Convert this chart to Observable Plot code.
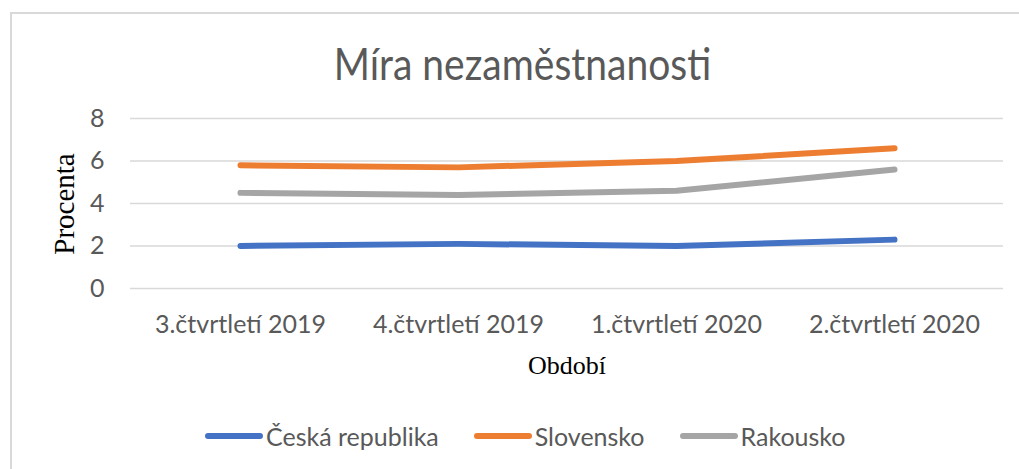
<!DOCTYPE html>
<html>
<head>
<meta charset="utf-8">
<script src="https://cdn.jsdelivr.net/npm/d3@7"></script>
<script src="https://cdn.jsdelivr.net/npm/@observablehq/plot@0.6"></script>
<style>
  html, body { margin: 0; padding: 0; background: #fff; }
  #wrap { position: relative; width: 1019px; height: 469px; overflow: hidden; font-family: Lato, "Open Sans", sans-serif; }
  #border { position: absolute; left: 10px; top: 12px; width: 1040px; height: 500px; border: 2px solid #d9d9d9; box-sizing: border-box; }
  #title { position: absolute; left: 0; width: 1045px; top: 37px; text-align: center; font-size: 39px; color: #595959; line-height: 52px; white-space: nowrap; transform: scaleY(1.15); transform-origin: 50% 50%; }
  #chart { position: absolute; left: 0; top: 0; }
  .axlab { position: absolute; font-family: "Liberation Serif", "Times New Roman", serif; color: #000; white-space: nowrap; }
  #ylab { left: 64px; top: 204px; font-size: 29px; transform: translate(-50%, -50%) rotate(-90deg); }
  #xlab { left: 567px; top: 366px; font-size: 26px; transform: translate(-50%, -50%); }
  #legend { position: absolute; left: 205px; top: 420px; height: 32px; display: flex; align-items: center; font-size: 25px; color: #595959; }
  .item { display: flex; align-items: center; margin-right: 35px; }
  .sw { width: 58px; height: 6px; border-radius: 3px; margin-right: 3px; }
</style>
</head>
<body>
<div id="wrap">
  <div id="border"></div>
  <div id="title">Míra nezaměstnanosti</div>
  <div id="chart"></div>
  <div class="axlab" id="ylab">Procenta</div>
  <div class="axlab" id="xlab">Období</div>
  <div id="legend"></div>
</div>
<script>
const categories = ["3.čtvrtletí 2019", "4.čtvrtletí 2019", "1.čtvrtletí 2020", "2.čtvrtletí 2020"];
const seriesNames = ["Česká republika", "Slovensko", "Rakousko"];
const ceskaRepublika = [2.0, 2.1, 2.0, 2.3];
const slovensko = [5.8, 5.7, 6.0, 6.6];
const rakousko = [4.5, 4.4, 4.6, 5.6];
const yTicks = [0, 2, 4, 6, 8];
const colors = ["#4472C4", "#ED7D31", "#A5A5A5"];

const seriesValues = [ceskaRepublika, slovensko, rakousko];
const data = [];
seriesNames.forEach((s, i) => categories.forEach((c, j) => data.push({series: s, period: c, value: seriesValues[i][j]})));

const plot = Plot.plot({
  width: 1019,
  height: 469,
  marginTop: 118,
  marginBottom: 181,
  marginLeft: 130,
  marginRight: 16,
  style: { fontFamily: "Lato, 'Open Sans', sans-serif", background: "transparent", overflow: "visible" },
  x: { type: "point", domain: categories, padding: 0.5, label: null },
  y: { domain: [0, 8], label: null },
  color: { domain: seriesNames, range: colors },
  marks: [
    Plot.ruleY(yTicks, { stroke: "#d9d9d9", strokeWidth: 1.5 }),
    Plot.axisY({ ticks: yTicks, tickSize: 0, tickPadding: 26, fontSize: 25, fill: "#595959", label: null }),
    Plot.axisX({ tickSize: 0, tickPadding: 27, fontSize: 25, fill: "#595959", label: null }),
    Plot.line(data, { x: "period", y: "value", z: "series", stroke: "series", strokeWidth: 6, strokeLinecap: "round", strokeLinejoin: "round", curve: "linear" })
  ]
});
document.getElementById("chart").appendChild(plot);

const legend = document.getElementById("legend");
seriesNames.forEach((s, i) => {
  const item = document.createElement("div");
  item.className = "item";
  const sw = document.createElement("div");
  sw.className = "sw";
  sw.style.background = colors[i];
  const t = document.createElement("span");
  t.textContent = s;
  item.appendChild(sw);
  item.appendChild(t);
  legend.appendChild(item);
});
</script>
</body>
</html>
